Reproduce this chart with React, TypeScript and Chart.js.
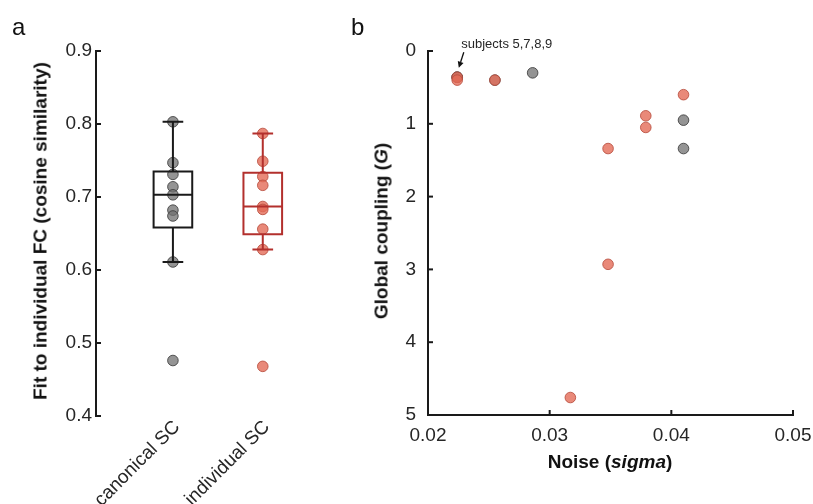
import React, { useEffect, useRef } from "react";
import { Chart, registerables } from "chart.js";

Chart.register(...registerables);

// ---------------- data ----------------
const categories = ["canonical SC", "individual SC"];
const canonicalFit = [0.803, 0.747, 0.731, 0.714, 0.703, 0.682, 0.674, 0.611, 0.476];
const individualFit = [0.787, 0.749, 0.728, 0.716, 0.687, 0.683, 0.656, 0.628, 0.468];
const fitTicks = [0.4, 0.5, 0.6, 0.7, 0.8, 0.9];

const canonicalNoise = [0.0224, 0.0224, 0.0255, 0.0286, 0.041, 0.041];
const canonicalCoupling = [0.36, 0.36, 0.4, 0.3, 0.95, 1.34];
const individualNoise = [0.0224, 0.0224, 0.0255, 0.0348, 0.0379, 0.0379, 0.041, 0.0348, 0.0317];
const individualCoupling = [0.36, 0.4, 0.4, 1.34, 0.89, 1.05, 0.6, 2.93, 4.76];
const noiseTicks = [0.02, 0.03, 0.04, 0.05];
const couplingTicks = [0, 1, 2, 3, 4, 5];

const noteText = "subjects 5,7,8,9";
const noteNoise = 0.0224;
const noteCoupling = 0.36;

// ---------------- style ----------------
const FONT = "'Liberation Sans', Arial, Helvetica, sans-serif";
const TEXT = "#262626";
const AXIS = "#1a1a1a";
const GREY_FILL = "rgba(112,112,112,0.75)";
const GREY_EDGE = "rgba(60,60,60,0.85)";
const RED_FILL = "rgba(228,108,88,0.8)";
const RED_EDGE = "rgba(185,78,62,0.85)";
const BOX_COLORS = ["#1a1a1a", "#b3302d"];

// MATLAB-style percentile
function prctile(sorted: number[], p: number): number {
  const n = sorted.length;
  const pos = (p / 100) * n + 0.5;
  if (pos <= 1) return sorted[0];
  if (pos >= n) return sorted[n - 1];
  const lo = Math.floor(pos);
  const f = pos - lo;
  return sorted[lo - 1] + f * (sorted[lo] - sorted[lo - 1]);
}

function boxStats(values: number[]) {
  const s = [...values].sort((a, b) => a - b);
  const q1 = prctile(s, 25);
  const med = prctile(s, 50);
  const q3 = prctile(s, 75);
  const iqr = q3 - q1;
  const lo = Math.min(...s.filter((v) => v >= q1 - 1.5 * iqr));
  const hi = Math.max(...s.filter((v) => v <= q3 + 1.5 * iqr));
  return { q1, med, q3, lo, hi };
}

const zeroPad = (s: any) => {
  s.paddingLeft = 0;
  s.paddingRight = 0;
  s.paddingTop = 0;
  s.paddingBottom = 0;
};

const innerTicksPlugin = {
  id: "innerTicks",
  afterDraw(chart: any, _args: any, opts: any) {
    const ids: string[] = opts?.scales || [];
    const len = opts?.length ?? 5;
    const ctx = chart.ctx;
    ctx.save();
    ctx.strokeStyle = AXIS;
    ctx.lineWidth = 2;
    for (const id of ids) {
      const s = chart.scales[id];
      if (!s) continue;
      for (const t of s.ticks) {
        const p = s.getPixelForValue(t.value);
        ctx.beginPath();
        if (s.isHorizontal()) {
          ctx.moveTo(p, s.top);
          ctx.lineTo(p, s.top - len);
        } else {
          ctx.moveTo(s.right, p);
          ctx.lineTo(s.right + len, p);
        }
        ctx.stroke();
      }
    }
    ctx.restore();
  },
};

function LeftPanel() {
  const ref = useRef<HTMLCanvasElement | null>(null);
  useEffect(() => {
    if (!ref.current) return;
    const groups = [canonicalFit, individualFit];
    const boxPlugin = {
      id: "boxPlot",
      afterDatasetsDraw(chart: any) {
        const xs = chart.scales.x;
        const ys = chart.scales.y;
        const ctx = chart.ctx;
        ctx.save();
        groups.forEach((vals, i) => {
          const st = boxStats(vals);
          const pos = i + 1;
          const xc = xs.getPixelForValue(pos);
          const xl = xs.getPixelForValue(pos - 0.215);
          const xr = xs.getPixelForValue(pos + 0.215);
          const cl = xs.getPixelForValue(pos - 0.115);
          const cr = xs.getPixelForValue(pos + 0.115);
          const yq1 = ys.getPixelForValue(st.q1);
          const yq3 = ys.getPixelForValue(st.q3);
          const ym = ys.getPixelForValue(st.med);
          const ylo = ys.getPixelForValue(st.lo);
          const yhi = ys.getPixelForValue(st.hi);
          ctx.strokeStyle = BOX_COLORS[i];
          ctx.lineWidth = 2;
          ctx.beginPath();
          ctx.rect(xl, yq3, xr - xl, yq1 - yq3);
          ctx.stroke();
          ctx.beginPath();
          ctx.moveTo(xl, ym);
          ctx.lineTo(xr, ym);
          ctx.moveTo(xc, yq3);
          ctx.lineTo(xc, yhi);
          ctx.moveTo(xc, yq1);
          ctx.lineTo(xc, ylo);
          ctx.moveTo(cl, yhi);
          ctx.lineTo(cr, yhi);
          ctx.moveTo(cl, ylo);
          ctx.lineTo(cr, ylo);
          ctx.stroke();
        });
        ctx.restore();
      },
    };
    const chart = new Chart(ref.current, {
      type: "scatter",
      data: {
        datasets: [
          {
            data: canonicalFit.map((v) => ({ x: 1, y: v })),
            backgroundColor: GREY_FILL,
            borderColor: GREY_EDGE,
            borderWidth: 1,
            pointRadius: 5.3,
          },
          {
            data: individualFit.map((v) => ({ x: 2, y: v })),
            backgroundColor: RED_FILL,
            borderColor: RED_EDGE,
            borderWidth: 1,
            pointRadius: 5.3,
          },
        ],
      },
      options: {
        responsive: false,
        animation: false,
        events: [],
        layout: { padding: { left: 0, right: 0, top: 51, bottom: 0 } },
        plugins: {
          legend: { display: false },
          tooltip: { enabled: false },
          innerTicks: { scales: ["y"], length: 5 },
        } as any,
        scales: {
          x: {
            type: "linear",
            min: 0.144,
            max: 2.678,
            border: { display: false },
            grid: { display: false, drawTicks: false },
            afterBuildTicks: (s: any) => {
              s.ticks = categories.map((_, i) => ({ value: i + 1 }));
            },
            afterFit: (s: any) => {
              s.height = 88;
              zeroPad(s);
            },
            ticks: {
              autoSkip: false,
              minRotation: 45,
              maxRotation: 45,
              padding: 0,
              labelOffset: 4,
              color: TEXT,
              font: { family: FONT, size: 19 },
              callback: (v: any) => categories[Math.round(Number(v)) - 1] ?? "",
            },
          },
          y: {
            type: "linear",
            min: 0.4,
            max: 0.9,
            border: { display: true, color: AXIS, width: 2 },
            grid: { display: false, drawTicks: false },
            afterBuildTicks: (s: any) => {
              s.ticks = fitTicks.map((v) => ({ value: v }));
            },
            afterFit: (s: any) => {
              s.width = 96;
              zeroPad(s);
            },
            ticks: {
              padding: 4,
              color: TEXT,
              font: { family: FONT, size: 19 },
              callback: (v: any) => Number(v).toFixed(1),
            },
          },
        },
      },
      plugins: [boxPlugin, innerTicksPlugin],
    } as any);
    return () => chart.destroy();
  }, []);
  return (
    <canvas
      ref={ref}
      width={330}
      height={504}
      style={{ position: "absolute", left: 0, top: 0, width: 330, height: 504 }}
    />
  );
}

function RightPanel() {
  const ref = useRef<HTMLCanvasElement | null>(null);
  useEffect(() => {
    if (!ref.current) return;
    const notePlugin = {
      id: "subjectNote",
      afterDatasetsDraw(chart: any) {
        const xs = chart.scales.x;
        const ys = chart.scales.y;
        const px = xs.getPixelForValue(noteNoise);
        const py = ys.getPixelForValue(noteCoupling);
        const ctx = chart.ctx;
        const tip = { x: px + 1.6, y: py - 9.5 };
        const tail = { x: px + 6.6, y: py - 25 };
        ctx.save();
        ctx.strokeStyle = "#111";
        ctx.fillStyle = "#111";
        ctx.lineWidth = 1.3;
        const ang = Math.atan2(tip.y - tail.y, tip.x - tail.x);
        const hl = 6;
        const hw = 3;
        const bx = tip.x - hl * Math.cos(ang);
        const by = tip.y - hl * Math.sin(ang);
        ctx.beginPath();
        ctx.moveTo(tail.x, tail.y);
        ctx.lineTo(bx, by);
        ctx.stroke();
        ctx.beginPath();
        ctx.moveTo(tip.x, tip.y);
        ctx.lineTo(bx + hw * Math.sin(ang), by - hw * Math.cos(ang));
        ctx.lineTo(bx - hw * Math.sin(ang), by + hw * Math.cos(ang));
        ctx.closePath();
        ctx.fill();
        ctx.fillStyle = TEXT;
        ctx.font = `13px ${FONT}`;
        ctx.textAlign = "left";
        ctx.textBaseline = "middle";
        ctx.fillText(noteText, px + 4, py - 33);
        ctx.restore();
      },
    };
    const chart = new Chart(ref.current, {
      type: "scatter",
      data: {
        datasets: [
          {
            data: individualNoise.map((x, i) => ({ x, y: individualCoupling[i] })),
            backgroundColor: RED_FILL,
            borderColor: RED_EDGE,
            borderWidth: 1,
            pointRadius: 5.3,
          },
          {
            data: canonicalNoise.map((x, i) => ({ x, y: canonicalCoupling[i] })),
            backgroundColor: GREY_FILL,
            borderColor: GREY_EDGE,
            borderWidth: 1,
            pointRadius: 5.3,
          },
        ],
      },
      options: {
        responsive: false,
        animation: false,
        events: [],
        layout: { padding: { left: 0, right: 20, top: 51, bottom: 0 } },
        plugins: {
          legend: { display: false },
          tooltip: { enabled: false },
          innerTicks: { scales: ["x", "y"], length: 5 },
        } as any,
        scales: {
          x: {
            type: "linear",
            min: 0.02,
            max: 0.05,
            border: { display: true, color: AXIS, width: 2 },
            grid: { display: false, drawTicks: false },
            afterBuildTicks: (s: any) => {
              s.ticks = noiseTicks.map((v) => ({ value: v }));
            },
            afterFit: (s: any) => {
              s.height = 89;
              zeroPad(s);
            },
            ticks: {
              autoSkip: false,
              maxRotation: 0,
              padding: 9,
              color: TEXT,
              font: { family: FONT, size: 19 },
              callback: (v: any) => Number(v).toFixed(2),
            },
          },
          y: {
            type: "linear",
            min: 0,
            max: 5,
            reverse: true,
            border: { display: true, color: AXIS, width: 2 },
            grid: { display: false, drawTicks: false },
            afterBuildTicks: (s: any) => {
              s.ticks = couplingTicks.map((v) => ({ value: v }));
            },
            afterFit: (s: any) => {
              s.width = 98;
              zeroPad(s);
            },
            ticks: {
              padding: 12,
              color: TEXT,
              font: { family: FONT, size: 19 },
              callback: (v: any) => String(Math.round(Number(v))),
            },
          },
        },
      },
      plugins: [innerTicksPlugin, notePlugin],
    } as any);
    return () => chart.destroy();
  }, []);
  return (
    <canvas
      ref={ref}
      width={483}
      height={504}
      style={{ position: "absolute", left: 330, top: 0, width: 483, height: 504 }}
    />
  );
}

const titleBase: React.CSSProperties = {
  position: "absolute",
  fontFamily: FONT,
  fontWeight: "bold",
  fontSize: 19,
  lineHeight: 1,
  whiteSpace: "nowrap",
  color: "#111",
};

export default function App() {
  return (
    <div
      style={{
        position: "absolute",
        left: 0,
        top: 0,
        width: 813,
        height: 504,
        background: "#fff",
        overflow: "hidden",
      }}
    >
      <LeftPanel />
      <RightPanel />
      <div
        style={{
          position: "absolute",
          left: 12,
          top: 15,
          fontFamily: FONT,
          fontSize: 24,
          lineHeight: "24px",
          color: "#111",
        }}
      >
        a
      </div>
      <div
        style={{
          position: "absolute",
          left: 351,
          top: 15,
          fontFamily: FONT,
          fontSize: 24,
          lineHeight: "24px",
          color: "#111",
        }}
      >
        b
      </div>
      <div
        style={{
          ...titleBase,
          left: 40,
          top: 231,
          transform: "translate(-50%, -50%) rotate(-90deg)",
        }}
      >
        Fit to individual FC (cosine similarity)
      </div>
      <div
        style={{
          ...titleBase,
          left: 381,
          top: 231,
          transform: "translate(-50%, -50%) rotate(-90deg)",
        }}
      >
        Global coupling (<i>G</i>)
      </div>
      <div
        style={{
          ...titleBase,
          left: 610,
          top: 461,
          transform: "translate(-50%, -50%)",
        }}
      >
        Noise (<i>sigma</i>)
      </div>
    </div>
  );
}
